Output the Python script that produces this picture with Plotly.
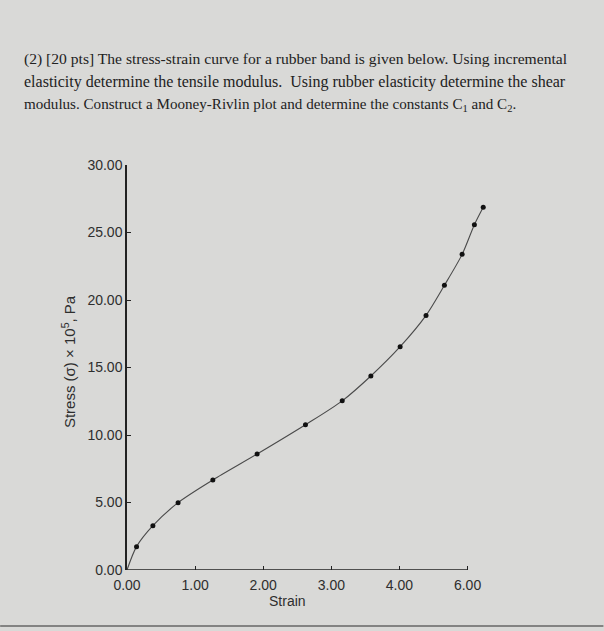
import plotly.graph_objects as go

strain = [0.14, 0.38, 0.75, 1.26, 1.91, 2.62, 3.16, 3.58, 4.01, 4.39, 4.66, 4.92, 5.10, 5.23]
stress = [1.73, 3.28, 4.99, 6.67, 8.59, 10.76, 12.53, 14.37, 16.54, 18.86, 21.09, 23.38, 25.58, 26.87]
curve_x = [0.0] + strain
curve_y = [0.0] + stress

x_tickvals = [0, 1, 2, 3, 4, 5]
x_ticktext = ["0.00", "1.00", "2.00", "3.00", "4.00", "6.00"]
y_tickvals = [0, 5, 10, 15, 20, 25, 30]
y_ticktext = ["0.00", "5.00", "10.00", "15.00", "20.00", "25.00", "30.00"]

question_lines = [
    "(2) [20 pts] The stress-strain curve for a rubber band is given below. Using incremental",
    "elasticity determine the tensile modulus.  Using rubber elasticity determine the shear",
    "modulus. Construct a Mooney-Rivlin plot and determine the constants C<sub>1</sub> and C<sub>2</sub>.",
]
question_sizes = [15.6, 16.0, 15.1]
question_y = [59, 82, 105]

BG = "#d9d9d7"
INK = "#2e2e2e"

fig = go.Figure()
fig.add_trace(go.Scatter(
    x=curve_x, y=curve_y, mode="lines",
    line=dict(color="#4a4a4a", width=1.1, shape="spline", smoothing=0.8),
    hoverinfo="skip", showlegend=False,
))
fig.add_trace(go.Scatter(
    x=strain, y=stress, mode="markers", cliponaxis=False,
    marker=dict(color="#111111", size=5, symbol="circle"),
    showlegend=False,
))

W, H = 604, 631
X_MAX = 5.3
ml, mt, mb = 127, 165, 61
px_per_unit = 68.2
mr = W - ml - X_MAX * px_per_unit
pw = W - ml - mr
ph = H - mt - mb

fig.update_layout(
    width=W, height=H,
    margin=dict(l=ml, r=mr, t=mt, b=mb, pad=0),
    paper_bgcolor=BG, plot_bgcolor=BG,
    font=dict(family="Liberation Sans, Arial, sans-serif", color=INK, size=14),
    showlegend=False,
    xaxis=dict(
        range=[0, X_MAX], showgrid=False, zeroline=False,
        showline=False,
        ticks="inside", ticklen=4, tickcolor="#222",
        tickvals=x_tickvals, ticktext=x_ticktext,
        tickfont=dict(size=14, color=INK),
        ticklabelstandoff=5,
    ),
    yaxis=dict(
        range=[0, 30], showgrid=False, zeroline=False,
        showline=True, linecolor="#222", linewidth=1.5,
        ticks="inside", ticklen=4, tickcolor="#222",
        tickvals=y_tickvals, ticktext=y_ticktext,
        tickfont=dict(size=14, color=INK),
    ),
)

# x axis line ends at the last tick
fig.add_shape(type="line", xref="x", yref="y", x0=0, x1=x_tickvals[-1], y0=0, y1=0,
              line=dict(color="#222", width=1.5))

# question text
for txt, yy, sz in zip(question_lines, question_y, question_sizes):
    fig.add_annotation(
        text=txt, xref="paper", yref="paper",
        x=(22 - ml) / pw, y=1 + (mt - yy) / ph,
        xanchor="left", yanchor="middle", showarrow=False,
        font=dict(family="Liberation Serif, Times New Roman, serif", size=sz, color="#222222"),
    )

# axis titles
fig.add_annotation(
    text="Strain", xref="paper", yref="paper",
    x=(288 - ml) / pw, y=-(601 - (H - mb)) / ph,
    xanchor="center", yanchor="middle", showarrow=False,
    font=dict(size=14, color=INK),
)
fig.add_annotation(
    text="Stress (σ) × 10<sup>5</sup>, Pa", xref="paper", yref="paper",
    x=(68 - ml) / pw, y=(H - mb - 362) / ph,
    xanchor="center", yanchor="middle", textangle=-90, showarrow=False,
    font=dict(size=15, color=INK),
)

# bottom page rule
ry = -(626 - (H - mb)) / ph
fig.add_shape(type="line", xref="paper", yref="paper",
              x0=-ml / pw, x1=1 + mr / pw, y0=ry, y1=ry,
              line=dict(color="#666", width=1.5))

fig.write_html("out.html",
               config={"displayModeBar": False},
               post_script="document.body.style.margin='0';document.body.style.background='#d9d9d7';")
